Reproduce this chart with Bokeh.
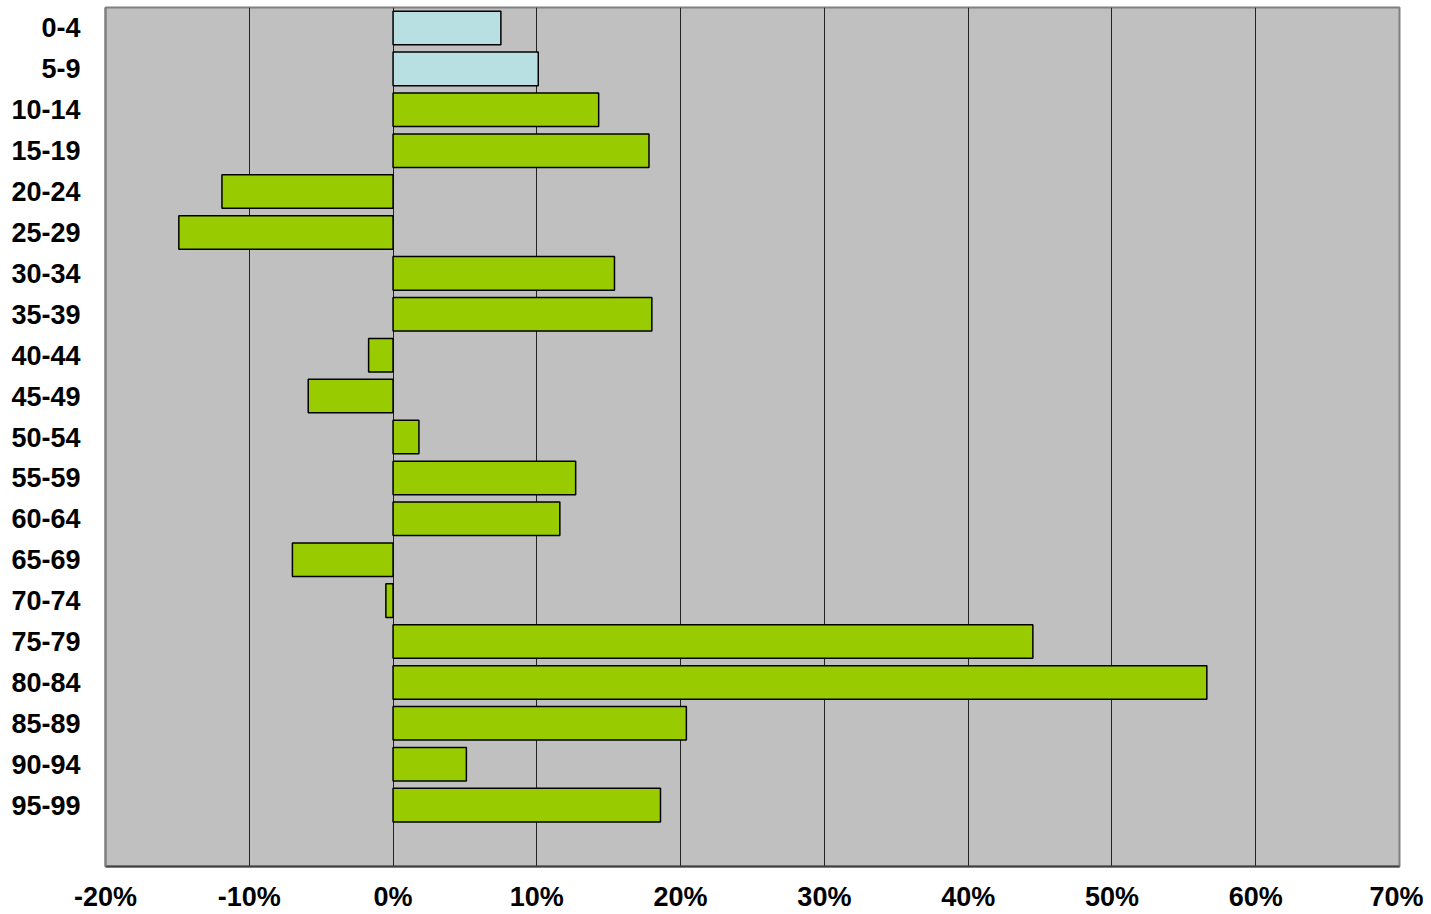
from bokeh.plotting import figure
from bokeh.models import Range1d, FixedTicker
from bokeh.embed import file_html
from bokeh.resources import INLINE

age_groups = ["0-4", "5-9", "10-14", "15-19", "20-24", "25-29", "30-34", "35-39",
              "40-44", "45-49", "50-54", "55-59", "60-64", "65-69", "70-74",
              "75-79", "80-84", "85-89", "90-94", "95-99"]
change_pct = [7.5, 10.1, 14.3, 17.8, -11.9, -14.9, 15.4, 18.0, -1.7, -5.9,
              1.8, 12.7, 11.6, -7.0, -0.5, 44.5, 56.6, 20.4, 5.1, 18.6]
highlight = [True, True] + [False] * 18
x_ticks = [-20, -10, 0, 10, 20, 30, 40, 50, 60, 70]

GREEN = "#99CC00"
LIGHTBLUE = "#B8DFE2"

ypos = list(range(len(age_groups)))
colors = [LIGHTBLUE if h else GREEN for h in highlight]

p = figure(width=1423, height=914, output_backend="svg", toolbar_location=None,
           x_range=Range1d(-20, 70), y_range=Range1d(len(age_groups) + 0.5, -0.5),
           min_border_left=105, min_border_right=24, min_border_top=7, min_border_bottom=46)

p.background_fill_color = "#C0C0C0"
p.border_fill_color = "white"
p.outline_line_color = "#808080"
p.outline_line_width = 2

p.hbar(y=ypos, left=0, right=change_pct, height=0.82, fill_color=colors,
       line_color="black", line_width=1.5)

# x axis
p.xaxis.ticker = FixedTicker(ticks=x_ticks)
p.xaxis.major_label_overrides = {t: f"{t}%" for t in x_ticks}
p.xaxis.major_label_text_font = "Liberation Sans"
p.xaxis.major_label_text_font_style = "bold"
p.xaxis.major_label_text_font_size = "27px"
p.xaxis.major_label_text_color = "black"
p.xaxis.major_tick_line_color = None
p.xaxis.minor_tick_line_color = None
p.xaxis.axis_line_color = "#404040"
p.xaxis.axis_line_width = 2
p.xaxis.major_label_standoff = 9

# y axis
p.yaxis.ticker = FixedTicker(ticks=ypos)
p.yaxis.major_label_overrides = {i: g for i, g in zip(ypos, age_groups)}
p.yaxis.major_label_text_font = "Liberation Sans"
p.yaxis.major_label_text_font_style = "bold"
p.yaxis.major_label_text_font_size = "27px"
p.yaxis.major_label_text_color = "black"
p.yaxis.major_tick_line_color = None
p.yaxis.minor_tick_line_color = None
p.yaxis.axis_line_color = "#808080"
p.yaxis.axis_line_width = 2
p.yaxis.major_label_standoff = 19

p.xgrid.ticker = FixedTicker(ticks=[-10, 0, 10, 20, 30, 40, 50, 60])
p.xgrid.grid_line_color = "#222222"
p.xgrid.grid_line_width = 1
p.ygrid.grid_line_color = None

open("out.html", "w").write(file_html(p, INLINE))
